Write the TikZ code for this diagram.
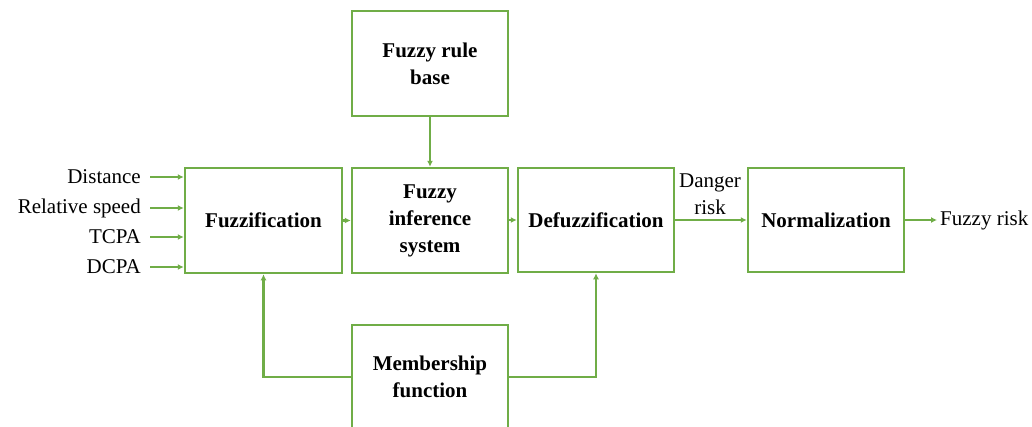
\documentclass[tikz,border=0pt]{standalone}
\usepackage{fontspec}
\setmainfont{Liberation Serif}
\usetikzlibrary{arrows.meta}
\definecolor{lgreen}{RGB}{112,173,71}
\tikzset{
  blk/.style={draw=lgreen, line width=2.5pt, rectangle, minimum width=156pt, minimum height=105pt, align=center, font=\fontsize{21}{27}\selectfont\bfseries, inner sep=0pt},
  arr/.style={draw=lgreen, line width=2.5pt, -{Latex[length=6pt,width=6pt]}},
  lbl/.style={font=\fontsize{21}{27}\selectfont, inner sep=0pt, align=center}
}
\begin{document}
\begin{tikzpicture}[x=1pt,y=-1pt]
\useasboundingbox (0,0) rectangle (1032,426);
\node[blk] (rule) at (430,63.5) {Fuzzy rule\\base};
\node[blk, minimum width=157pt] (fuzz) at (263.5,220.5) {Fuzzification};
\node[blk] (inf) at (430,220.5) {Fuzzy\\inference\\system};
\node[blk, minimum height=104pt] (defuzz) at (596,220) {Defuzzification};
\node[blk, minimum height=104pt] (norm) at (826,220) {Normalization};
\node[blk, minimum height=104pt] (memb) at (430,377) {Membership\\function};
% inputs
\coordinate (i1) at (150,177);
\coordinate (i2) at (150,208);
\coordinate (i3) at (150,237);
\coordinate (i4) at (150,267);
\node[lbl, anchor=east] (l1) at (141,177) {Distance};
\node[lbl, anchor=east] (l2) at (141,208) {Relative speed};
\node[lbl, anchor=east] (l3) at (141,237) {TCPA};
\node[lbl, anchor=east] (l4) at (141,267) {DCPA};
\draw[arr] (i1) -- (i1 -| fuzz.west);
\draw[arr] (i2) -- (i2 -| fuzz.west);
\draw[arr] (i3) -- (i3 -| fuzz.west);
\draw[arr] (i4) -- (i4 -| fuzz.west);
% main chain
\draw[arr] (fuzz.east) -- (fuzz.east -| inf.west);
\draw[arr] (rule.south) -- (inf.north);
\draw[arr] (inf.east |- defuzz.west) -- (defuzz.west);
\draw[arr] (defuzz.east) -- (norm.west);
\node[lbl] (danger) at (710,194) {Danger\\risk};
\coordinate (out) at (937,220);
\draw[arr] (norm.east) -- (out);
\node[lbl, anchor=west] (fr) at (940,220) {Fuzzy risk};
% feedback
\draw[arr] (memb.west) -| (fuzz.south);
\draw[arr] (memb.east) -| (defuzz.south);
\end{tikzpicture}
\end{document}
